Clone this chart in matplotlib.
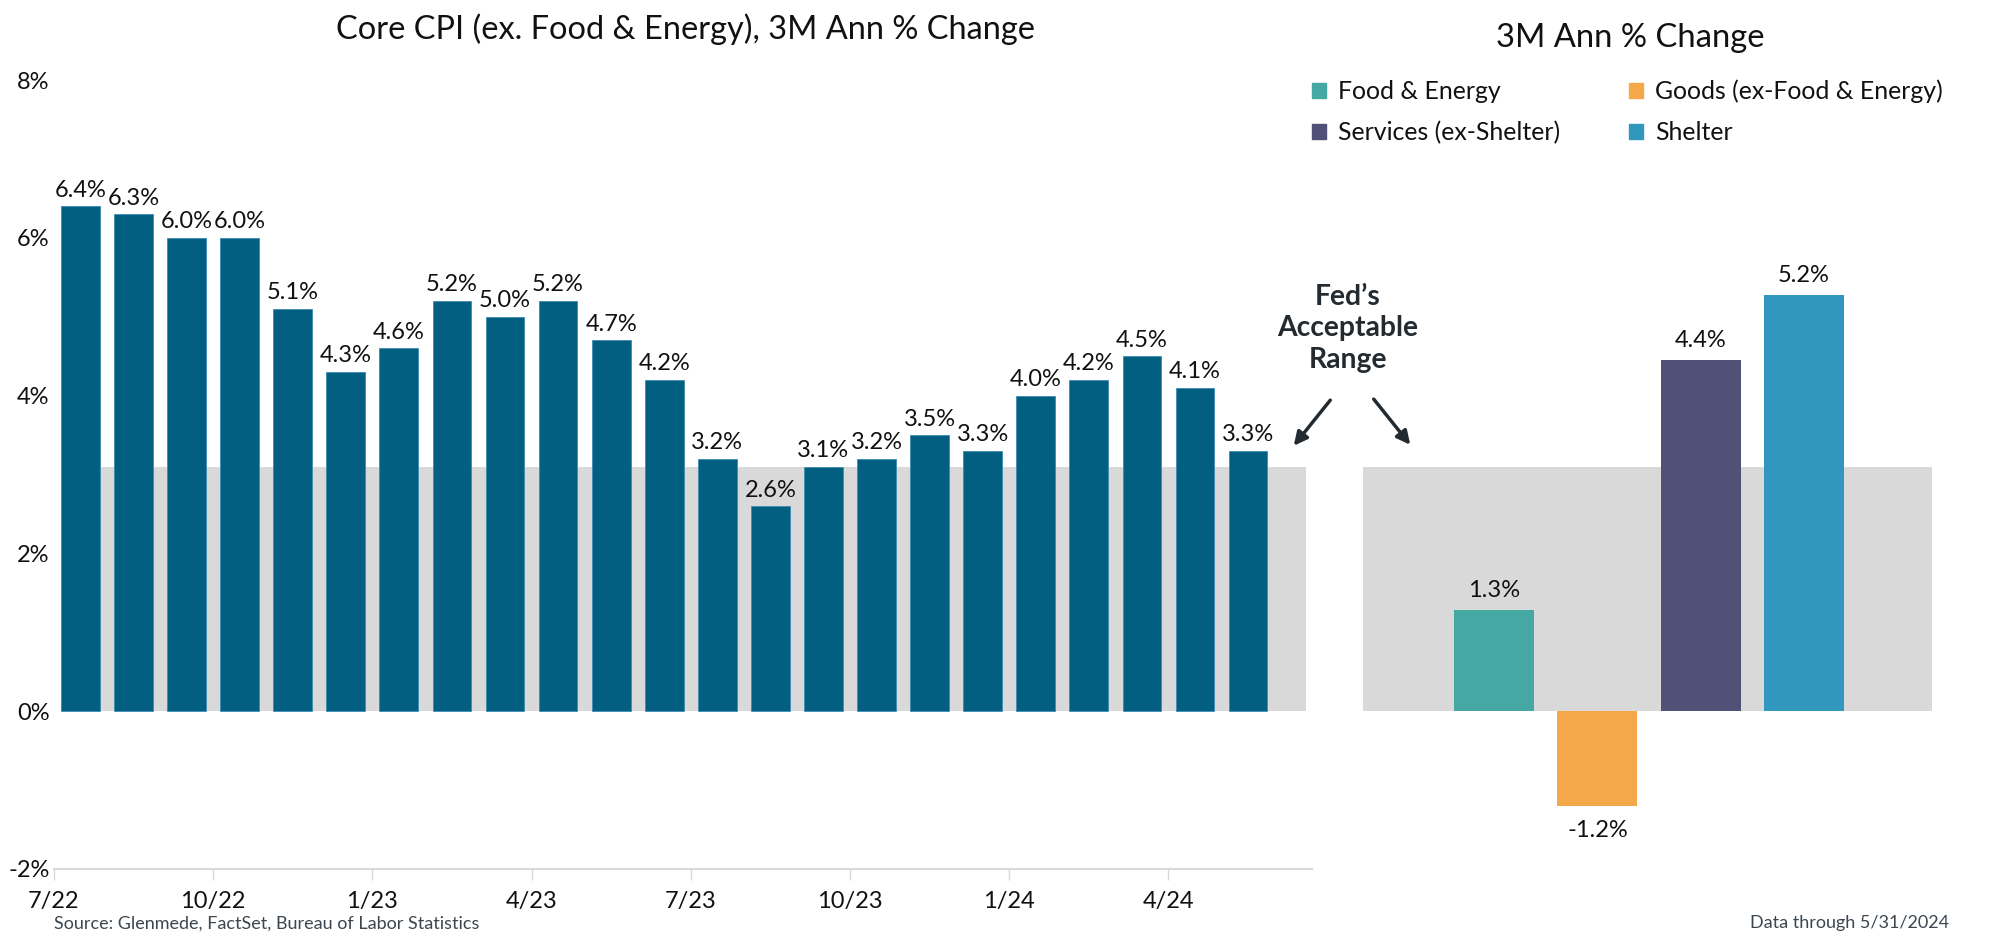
import matplotlib
matplotlib.use("Agg")
import matplotlib.pyplot as plt
from matplotlib.patches import FancyArrowPatch, Rectangle

plt.rcParams['font.family'] = ['Lato', 'DejaVu Sans']

# Datos del grafico izquierdo (Core CPI, 3M anualizado)
months = ['7/22', '8/22', '9/22', '10/22', '11/22', '12/22', '1/23', '2/23', '3/23',
          '4/23', '5/23', '6/23', '7/23', '8/23', '9/23', '10/23', '11/23', '12/23',
          '1/24', '2/24', '3/24', '4/24', '5/24']
core_cpi = [6.4, 6.3, 6.0, 6.0, 5.1, 4.3, 4.6, 5.2, 5.0, 5.2, 4.7, 4.2,
            3.2, 2.6, 3.1, 3.2, 3.5, 3.3, 4.0, 4.2, 4.5, 4.1, 3.3]
tick_labels = ['7/22', '10/22', '1/23', '4/23', '7/23', '10/23', '1/24', '4/24']

# Datos del grafico derecho (componentes)
components = ['Food & Energy', 'Goods (ex-Food & Energy)', 'Services (ex-Shelter)', 'Shelter']
component_vals = [1.28, -1.2, 4.45, 5.27]
component_labels = ['1.3%', '-1.2%', '4.4%', '5.2%']
component_colors = ['#45a8a2', '#f5a84a', '#4f5176', '#3297bd']

fed_range = (0, 3.1)

bar_color = '#025f82'
band_color = '#d9d9d9'
text_color = '#111111'

fig = plt.figure(figsize=(20, 9.49), dpi=100)

# --- Panel izquierdo ---
ax1 = fig.add_axes([0.0269, 0.0843, 0.629, 0.8314])
x = list(range(len(core_cpi)))
ax1.fill_between([-0.36, 23.1], fed_range[0], fed_range[1], color=band_color, lw=0, zorder=0)
ax1.bar(x, core_cpi, width=0.73, color=bar_color, edgecolor='#3d8db0', linewidth=0.6, zorder=2)
for xi, v in zip(x, core_cpi):
    ax1.text(xi, v + 0.07, f'{v:.1f}%', ha='center', va='bottom', fontsize=17, color=text_color, zorder=3)

ax1.set_xlim(-0.5, 23.2)
ax1.set_ylim(-2, 8)
ax1.set_yticks([-2, 0, 2, 4, 6, 8])
ax1.set_yticklabels(['-2%', '0%', '2%', '4%', '6%', '8%'])
tick_pos = [months.index(m) - 0.5 for m in tick_labels]
ax1.set_xticks(tick_pos)
ax1.set_xticklabels(tick_labels)
ax1.tick_params(axis='y', length=0, pad=3, labelsize=17, labelcolor=text_color)
ax1.tick_params(axis='x', length=8, width=1, color='#d9d9d9', pad=8, labelsize=17, labelcolor=text_color)
for s in ['top', 'right', 'left']:
    ax1.spines[s].set_visible(False)
ax1.spines['bottom'].set_color('#d9d9d9')
ax1.spines['bottom'].set_linewidth(1.5)
ax1.set_title('Core CPI (ex. Food & Energy), 3M Ann % Change', fontsize=23.4, color=text_color, pad=0,
              x=0.502, y=1.052)

# --- Panel derecho ---
ax2 = fig.add_axes([0.6815, 0.0843, 0.2845, 0.8314])
xr = list(range(len(component_vals)))
ax2.fill_between([-1.27, 4.24], fed_range[0], fed_range[1], color=band_color, lw=0, zorder=0)
ax2.bar(xr, component_vals, width=0.775, color=component_colors, zorder=2)
for xi, v, lab in zip(xr, component_vals, component_labels):
    if v >= 0:
        ax2.text(xi, v + 0.12, lab, ha='center', va='bottom', fontsize=17, color=text_color)
    else:
        ax2.text(xi, v - 0.18, lab, ha='center', va='top', fontsize=17, color=text_color)
ax2.set_xlim(-1.27, 4.24)
ax2.set_ylim(-2, 8)
ax2.axis('off')

fig.text(0.815, 0.96, '3M Ann % Change', ha='center', va='center', fontsize=23.6, color=text_color)
# orden por filas: Food, Goods / Services, Shelter
order = [0, 2, 1, 3]
handles = [Rectangle((0, 0), 1, 1, color=component_colors[i]) for i in order]
labels = [components[i] for i in order]
fig.legend(handles, labels, loc='upper left', bbox_to_anchor=(0.645, 0.94), ncol=2,
           frameon=False, fontsize=17.9, handlelength=0.55, handleheight=0.55, handletextpad=0.5,
           columnspacing=2.75, labelspacing=0.72, labelcolor=text_color)

# Anotacion rango Fed
fig.text(0.674, 0.654, 'Fed\u2019s\nAcceptable\nRange', ha='center', va='center', fontsize=20.3,
         fontweight='bold', color='#232b31', linespacing=1.25)
fig.add_artist(FancyArrowPatch((0.666, 0.5806), (0.646, 0.528), transform=fig.transFigure,
                               arrowstyle='-|>', mutation_scale=20, lw=2.5, color='#232b31'))
fig.add_artist(FancyArrowPatch((0.686, 0.5817), (0.706, 0.529), transform=fig.transFigure,
                               arrowstyle='-|>', mutation_scale=20, lw=2.5, color='#232b31'))

fig.text(0.027, 0.027, 'Source: Glenmede, FactSet, Bureau of Labor Statistics', ha='left', va='center',
         fontsize=13, color='#3c4650')
fig.text(0.9745, 0.027, 'Data through 5/31/2024', ha='right', va='center', fontsize=13, color='#3c4650')

fig.savefig('out.png', dpi=100)
